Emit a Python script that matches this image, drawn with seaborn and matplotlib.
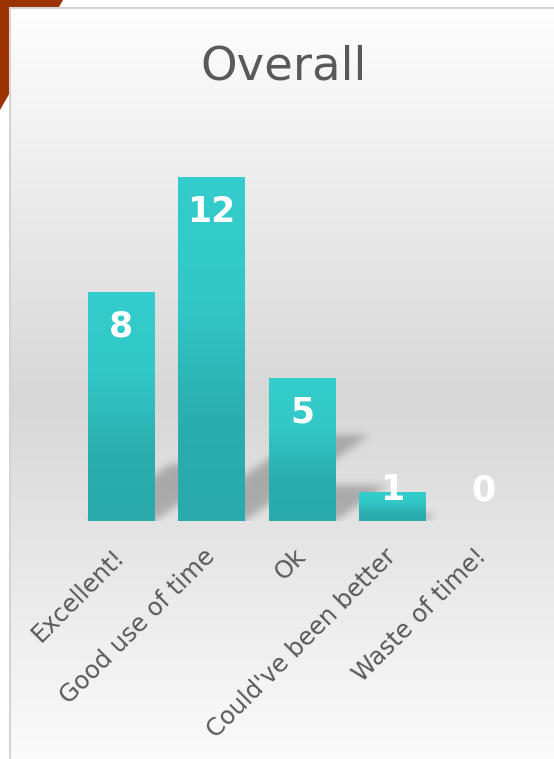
import numpy as np
import pandas as pd
import matplotlib
matplotlib.use('Agg')
import matplotlib.pyplot as plt
from matplotlib.patches import Polygon
import seaborn as sns

# ---- data ----
categories = ["Excellent!", "Good use of time", "Ok", "Could've been better", "Waste of time!"]
counts = [8, 12, 5, 1, 0]
title = "Overall"

sns.set_theme(style="white")
plt.rcParams['font.family'] = ['DejaVu Sans']

W, H, DPI = 554, 759, 100
fig = plt.figure(figsize=(W / DPI, H / DPI), dpi=DPI)
fig.patch.set_facecolor('white')

# ---- background panel ----
bg = fig.add_axes([0, 0, 1, 1], zorder=0)
bg.add_patch(Polygon([[0, 0], [63, 0], [0, 110]], closed=True, facecolor='#9A3300', lw=0, zorder=0))
rows = np.arange(8, H)
g = np.interp(rows, [8, 400, 790], [254, 215, 254]) / 255
grad = np.repeat(g[:, None, None], 3, axis=2)
bg.imshow(grad, extent=[10, W, H, 8], aspect='auto', origin='upper', interpolation='bilinear', zorder=1)
bg.plot([10, 10, W], [H, 8, 8], color='#d4d4d4', lw=1.5, zorder=2, solid_joinstyle='miter')
bg.set_xlim(0, W)
bg.set_ylim(H, 0)
bg.axis('off')

# ---- main axes ----
ax = fig.add_axes([75.75 / W, 238 / H, 452.5 / W, 344 / H], zorder=1)
ax.set_facecolor('none')
df = pd.DataFrame({'category': categories, 'count': counts})
sns.barplot(data=df, x='category', y='count', color='#2fbdbd', width=0.73,
            saturation=1, ax=ax, zorder=3, linewidth=0, edgecolor='none')

# bar gradients
stops_t = [0.0, 0.35, 0.7, 1.0]
stops_c = np.array([[0x34, 0xcc, 0xcc], [0x32, 0xc8, 0xc8], [0x2b, 0xae, 0xae], [0x2a, 0xaa, 0xaa]]) / 255
t = np.linspace(0, 1, 256)
bar_grad = np.stack([np.interp(t, stops_t, stops_c[:, c]) for c in range(3)], axis=1)[:, None, :]
for p in ax.patches:
    x0, y0 = p.get_x(), p.get_y()
    w, h = p.get_width(), p.get_height()
    if h <= 0:
        p.set_visible(False)
        continue
    im = ax.imshow(bar_grad, extent=[x0, x0 + w, y0, y0 + h], aspect='auto',
                   origin='upper', interpolation='bilinear', zorder=3.5)
    im.set_clip_path(p)

n = len(categories)
ymax = max(counts)
ax.set_xlim(-0.5, n - 0.5)
ax.set_ylim(0, ymax)

# perspective shadows
pos = ax.get_position()
axw, axh = pos.width * W, pos.height * H
ppx, ppy = axw / n, axh / ymax
nx, ny = int(round(axw)), int(round(axh))
YY, XX = np.meshgrid(np.arange(ny) + 0.5, np.arange(nx) + 0.5, indexing='ij')
mask = np.zeros((ny, nx))
k = 1.45
for p in ax.patches:
    h_px = p.get_height() * ppy
    if h_px <= 0:
        continue
    x0p = (p.get_x() + 0.5) * ppx
    x1p = x0p + p.get_width() * ppx
    s = 0.25 * h_px
    m = (YY <= s) & (XX >= x0p + k * YY) & (XX <= x1p + k * YY)
    mask = np.maximum(mask, m.astype(float))
sigma = 4.0
r = int(3 * sigma)
kern = np.exp(-np.arange(-r, r + 1) ** 2 / (2 * sigma ** 2))
kern /= kern.sum()
mask = np.apply_along_axis(lambda v: np.convolve(v, kern, mode='same'), 1, mask)
mask = np.apply_along_axis(lambda v: np.convolve(v, kern, mode='same'), 0, mask)
rgba = np.zeros((ny, nx, 4))
rgba[..., 3] = 0.24 * mask
ax.imshow(rgba, extent=[-0.5, n - 0.5, 0, ymax], origin='lower', aspect='auto', zorder=2)
ax.set_xlim(-0.5, n - 0.5)
ax.set_ylim(0, ymax)

# value labels
for i, v in enumerate(counts):
    ax.text(i, max(v - 1.22, 1.08), str(v), ha='center', va='center', color='white',
            fontsize=25, fontweight='bold', zorder=5)

ax.set_xticks(range(n))
ax.set_xticklabels(categories, rotation=45, ha='right', va='center', rotation_mode='anchor',
                   fontsize=17.5, color='#595959')
ax.tick_params(axis='x', length=0, pad=23)
ax.set_yticks([])
ax.set_xlabel('')
ax.set_ylabel('')
for sp in ax.spines.values():
    sp.set_visible(False)

fig.text(284 / W, 1 - 79 / H, title, ha='center', va='baseline', fontsize=33.5, color='#595959')

fig.savefig('out.png', dpi=DPI)
